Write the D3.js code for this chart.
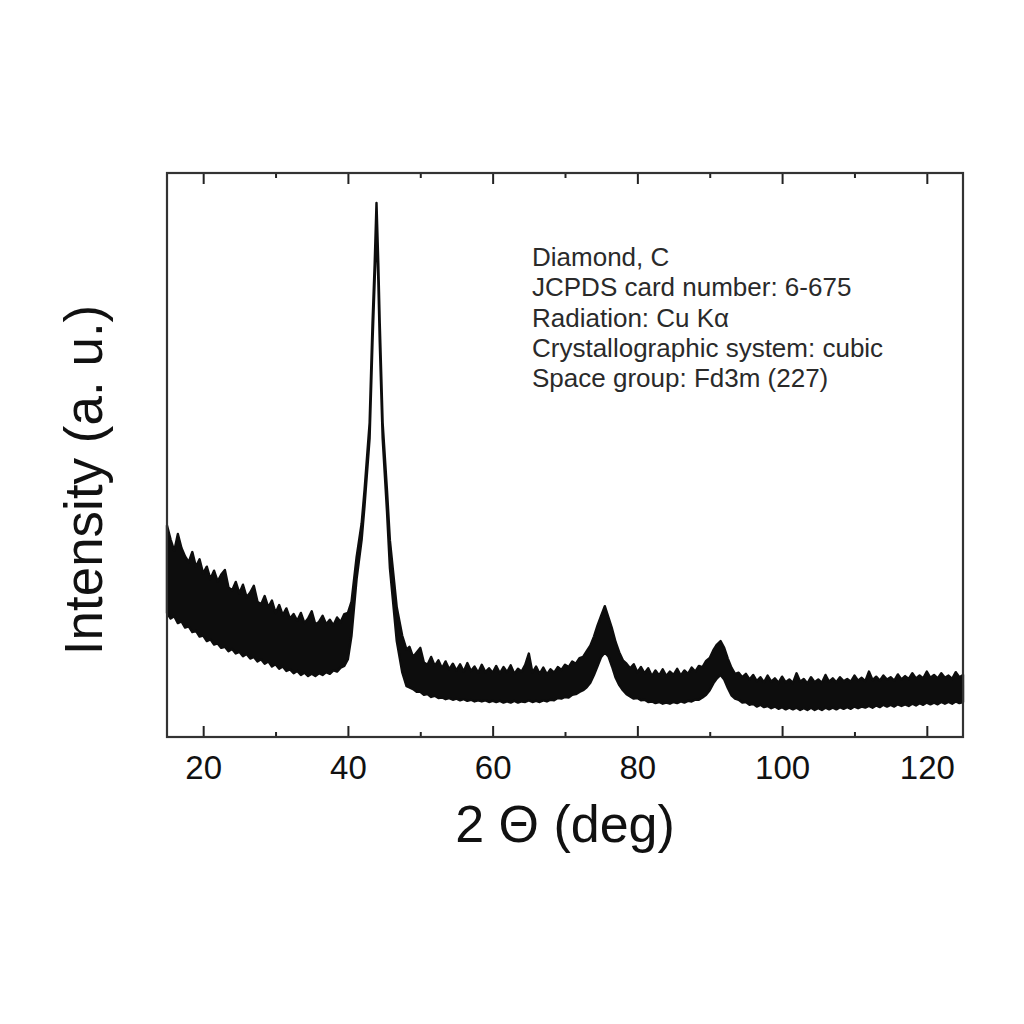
<!DOCTYPE html>
<html>
<head>
<meta charset="utf-8">
<script src="https://cdn.jsdelivr.net/npm/d3@7"></script>
<style>
  body { margin: 0; background: #fff; }
  text { font-family: "Liberation Sans", Arial, sans-serif; }
</style>
</head>
<body>
<svg width="1024" height="1024"></svg>
<script>
// scan positions (deg): background stretches sampled every 0.5 deg, peaks hand-placed
var twoTheta = [].concat(
    d3.range(15, 40.01, 0.5),
    [40.5, 41.2, 41.9, 42.3, 43, 43.4, 43.7, 43.95, 44.2, 44.4, 44.8, 45.4, 45.8, 46.75, 47.5, 48.1],
    d3.range(48.5, 73.51, 0.5),
    [74, 74.5, 75, 75.5, 76, 76.5, 77, 77.5, 78, 78.5],
    d3.range(79, 89.51, 0.5),
    [90, 90.5, 91, 91.5, 92, 92.5, 93, 93.5],
    d3.range(94, 125.01, 0.5)
);
// upper edge of the noisy trace (a. u.)
var upperEdge = [
    37.5,35.0,33.0,36.0,33.5,32.0,31.0,32.8,30.2,31.5,29.0,30.2,28.0,29.5,27.6,28.8,29.6,26.5,26.0,27.5,
    25.5,27.0,24.8,25.6,26.8,24.0,23.5,25.0,23.0,24.2,22.0,23.4,21.6,22.8,21.0,21.8,20.6,22.0,20.2,21.0,
    22.3,20.0,20.4,21.5,20.0,20.8,19.8,21.2,20.4,21.8,22.0,
    24.0,31.9,37.9,43.8,55.7,73.4,84.0,94.7,84.0,73.4,55.7,43.8,34.9,23.0,18.0,15.5,
    16.0,14.2,15.0,15.8,13.2,12.8,14.2,12.6,13.6,12.2,13.4,12.0,13.0,11.8,12.9,11.6,13.1,11.7,12.5,11.4,
    12.8,11.5,12.2,11.4,12.6,11.3,12.4,11.5,12.7,11.2,12.1,11.6,12.8,14.8,11.4,12.5,11.2,12.3,11.1,12.0,
    11.4,12.4,11.9,12.8,12.4,13.4,13.0,14.0,14.2,15.2,16.2,
    17.8,19.8,21.5,23.2,21.2,19.2,16.8,15.0,13.6,13.0,
    12.2,12.9,11.5,12.4,11.3,12.2,10.8,11.8,10.9,12.0,10.8,11.6,11.0,12.1,10.9,11.8,11.2,12.3,11.6,12.6,
    12.4,13.5,
    14.0,15.4,16.4,17.0,15.8,13.9,12.3,11.2,
    11.4,10.6,11.2,10.2,11.0,9.9,10.6,9.7,10.9,9.8,10.4,9.6,10.7,9.7,10.2,9.6,11.3,9.8,10.3,9.5,
    10.6,9.7,10.2,9.6,11.0,9.8,10.4,9.7,10.6,9.9,10.3,9.8,10.9,10.0,10.5,9.9,11.6,10.1,10.7,10.0,
    10.9,10.2,10.6,10.0,11.1,10.2,10.8,10.3,11.3,10.4,10.9,10.4,11.6,10.5,11.0,10.4,11.3,10.5,10.9,10.3,
    11.5,10.6,11.0
];
// lower edge of the noisy trace (a. u.)
var lowerEdge = [
    22.0,21.0,21.4,20.2,20.5,19.4,19.6,18.6,18.8,17.8,18.0,17.0,17.3,16.4,16.6,15.8,16.0,15.2,15.6,14.8,
    15.1,14.3,14.7,13.9,14.2,13.4,13.8,13.0,13.4,12.5,12.9,12.1,12.5,11.7,12.0,11.3,11.7,11.0,11.4,10.8,
    11.2,10.8,11.3,11.0,11.5,11.2,11.8,11.6,12.3,12.6,13.8,
    18.0,28.0,35.0,41.0,53.0,70.0,81.0,91.0,81.0,70.0,53.0,40.0,30.0,17.0,11.5,9.0,
    8.8,8.5,8.0,8.0,7.5,7.6,7.1,7.3,6.9,7.0,6.7,6.9,6.6,6.8,6.5,6.7,6.4,6.6,6.3,6.5,
    6.3,6.5,6.2,6.4,6.2,6.4,6.1,6.3,6.1,6.4,6.1,6.3,6.2,6.5,6.2,6.4,6.2,6.5,6.3,6.6,
    6.5,6.9,6.8,7.1,7.0,7.5,7.6,8.0,8.3,8.8,9.6,
    11.0,12.6,14.2,15.0,14.3,12.5,10.5,9.2,8.3,7.6,
    7.2,6.8,6.9,6.5,6.6,6.2,6.3,6.0,6.2,5.9,6.1,5.9,6.2,6.0,6.3,6.1,6.4,6.3,6.6,6.6,
    7.0,7.5,
    8.3,9.5,10.4,11.0,10.2,8.7,7.4,6.8,
    6.6,6.1,6.2,5.7,5.9,5.4,5.7,5.3,5.5,5.1,5.4,5.0,5.3,4.9,5.2,4.9,5.2,4.8,5.1,4.8,
    5.2,4.8,5.1,4.8,5.2,4.9,5.2,4.9,5.3,5.0,5.3,5.0,5.4,5.1,5.4,5.2,5.5,5.2,5.6,5.3,
    5.7,5.4,5.7,5.4,5.8,5.5,5.8,5.5,5.9,5.6,6.0,5.7,6.1,5.8,6.1,5.8,6.2,5.9,6.2,5.9,
    6.3,6.0,6.2
];
var majorTicks = [20, 40, 60, 80, 100, 120];
var minorTicks = [30, 50, 70, 90, 110];
var infoLines = ["Diamond, C", "JCPDS card number: 6-675", "Radiation: Cu K\u03b1",
    "Crystallographic system: cubic", "Space group: Fd3m (227)"];

var svg = d3.select("svg"),
    margin = { top: 173, right: 61, bottom: 287, left: 167 },
    width = +svg.attr("width") - margin.left - margin.right,
    height = +svg.attr("height") - margin.top - margin.bottom;

svg.append("rect").attr("width", 1024).attr("height", 1024).attr("fill", "#fff");

var g = svg.append("g")
    .attr("transform", "translate(" + margin.left + "," + margin.top + ")");

var x = d3.scaleLinear().domain([15, 125]).range([0, width]);
var y = d3.scaleLinear().domain([0, 100]).range([height, 0]);

var n = Math.min(twoTheta.length, upperEdge.length, lowerEdge.length);
var scan = d3.range(n).map(function (i) {
    return { t: twoTheta[i], hi: upperEdge[i], lo: lowerEdge[i] };
});

var band = d3.area()
    .x(function (d) { return x(d.t); })
    .y0(function (d) { return y(d.lo); })
    .y1(function (d) { return y(d.hi); });

g.append("path")
    .datum(scan)
    .attr("d", band)
    .attr("fill", "#0d0d0d")
    .attr("stroke", "#0d0d0d")
    .attr("stroke-width", 2.4)
    .attr("stroke-linejoin", "round");

// bottom axis, ticks pointing inward
var bottom = g.append("g")
    .attr("transform", "translate(0," + height + ")")
    .call(d3.axisBottom(x).tickValues(majorTicks).tickSize(-11).tickPadding(19));
bottom.selectAll("text").attr("font-size", 33).attr("fill", "#111");
g.append("g")
    .attr("transform", "translate(0," + height + ")")
    .call(d3.axisBottom(x).tickValues(minorTicks).tickSize(-5).tickFormat(""));

// top axis, no labels
g.append("g")
    .call(d3.axisTop(x).tickValues(majorTicks).tickSize(-11).tickFormat(""));
g.append("g")
    .call(d3.axisTop(x).tickValues(minorTicks).tickSize(-5).tickFormat(""));

g.selectAll(".domain").remove();
g.selectAll(".tick line").attr("stroke", "#222").attr("stroke-width", 2);

g.append("rect")
    .attr("width", width)
    .attr("height", height)
    .attr("fill", "none")
    .attr("stroke", "#333")
    .attr("stroke-width", 2.2);

// info block
g.append("g")
    .selectAll("text")
    .data(infoLines)
    .enter()
    .append("text")
    .attr("x", 532 - margin.left)
    .attr("y", function (d, i) { return 266 - margin.top + i * 30.3; })
    .attr("font-size", 26)
    .attr("fill", "#2a2a2a")
    .text(function (d) { return d; });

// axis titles
svg.append("text")
    .attr("x", 565)
    .attr("y", 842)
    .attr("text-anchor", "middle")
    .attr("font-size", 52)
    .attr("fill", "#111")
    .text("2 \u0398 (deg)");

svg.append("text")
    .attr("transform", "translate(102,480)rotate(-90)")
    .attr("text-anchor", "middle")
    .attr("font-size", 53)
    .attr("fill", "#111")
    .text("Intensity (a. u.)");
</script>
</body>
</html>
